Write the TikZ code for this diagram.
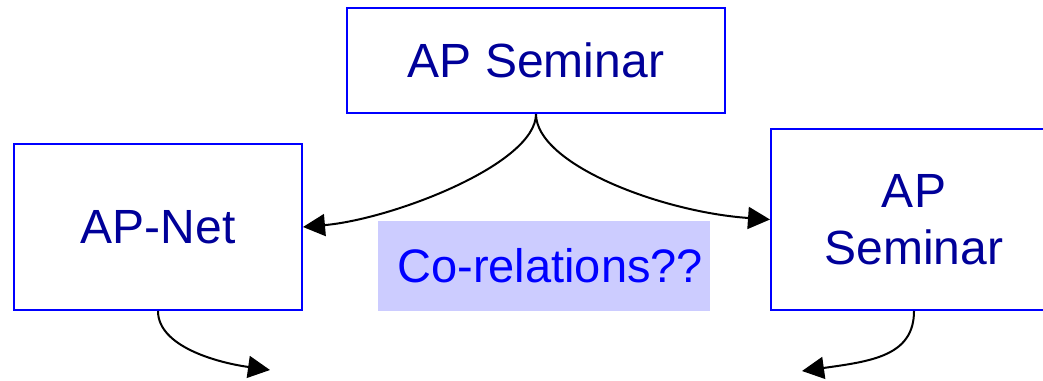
\documentclass[tikz,border=0pt]{standalone}
\usepackage{fontspec}
\setmainfont{Liberation Sans}
\usepackage{tikz}
\usetikzlibrary{arrows.meta}
\definecolor{apblue}{RGB}{0,0,255}
\definecolor{aptext}{RGB}{0,0,153}
\definecolor{aplilac}{RGB}{204,204,255}

\begin{document}
\begin{tikzpicture}[x=1pt,y=-1pt,line width=2pt,
        box/.style={draw=apblue,rectangle,text=aptext,align=center,inner sep=0pt,
          font=\fontsize{48}{57}\selectfont},
        corel/.style={fill=aplilac,text=apblue,inner xsep=7pt,inner ysep=0pt,
          text width=318pt,align=right,font=\fontsize{47}{56}\selectfont},
        >={Triangle[length=22pt,width=22pt]}]
        \useasboundingbox (0,0) rectangle (1043,380);
        \node[box,minimum width=378pt,minimum height=105pt] (sem_top) at (536,60.5) {AP Seminar};
        \node[box,minimum width=288pt,minimum height=166pt] (ap_net) at (158,227) {AP-Net};
        \node[box,minimum width=286pt,minimum height=181pt] (sem_right) at (914,219.5) {AP\\Seminar};
        \node[corel,minimum height=90pt] (corel) at (544,265.5) {Co-relations??};
        \coordinate (out_net) at (270,370);
        \coordinate (out_sem) at (802,371);
        \path[->]
        (sem_top.south) edge [out=-90,in=5,out distance=50pt,in distance=90pt] (ap_net.east)
                        edge [out=-90,in=176,out distance=50pt,in distance=110pt] (sem_right.west)
        (ap_net.south) edge [out=-90,in=172,out distance=35pt,in distance=55pt] (out_net)
        (sem_right.south) edge [out=-90,in=8,out distance=45pt,in distance=70pt] (out_sem);
      \end{tikzpicture}
\end{document}
